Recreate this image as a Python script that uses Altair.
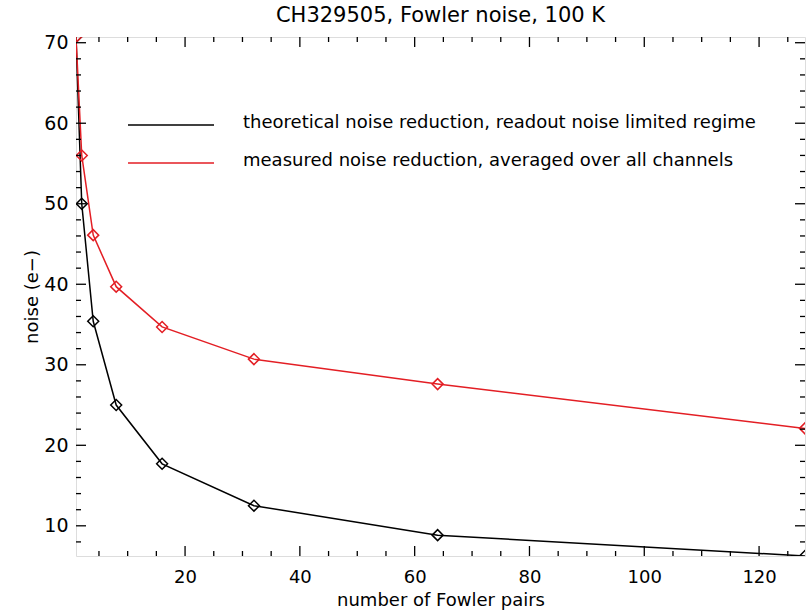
import altair as alt
import pandas as pd

# Fowler pair counts and noise levels (electrons)
pairs = [1, 2, 4, 8, 16, 32, 64, 128]
theoretical = [70.7, 50.0, 35.4, 25.0, 17.7, 12.5, 8.84, 6.25]
measured = [70.7, 56.0, 46.1, 39.7, 34.7, 30.7, 27.6, 22.1]

series_names = [
    "theoretical noise reduction, readout noise limited regime",
    "measured noise reduction, averaged over all channels",
]
series_colors = ["#000000", "#e31e24"]

x_major = [20, 40, 60, 80, 100, 120]
x_minor = [5, 10, 15, 25, 30, 35, 45, 50, 55, 65, 70, 75, 85, 90, 95, 105, 110, 115, 125]
y_major = [10, 20, 30, 40, 50, 60, 70]
y_minor = [8, 12, 14, 16, 18, 22, 24, 26, 28, 32, 34, 36, 38, 42, 44, 46, 48,
           52, 54, 56, 58, 62, 64, 66, 68]

FONT = "DejaVu Sans"
W, H = 729, 519

df = pd.DataFrame({
    "pairs": pairs * 2,
    "noise": theoretical + measured,
    "series": [series_names[0]] * len(pairs) + [series_names[1]] * len(pairs),
})

xs = alt.Scale(domain=[1, 128], nice=False, zero=False)
ys = alt.Scale(domain=[6.25, 70.71], nice=False, zero=False)
cs = alt.Scale(domain=series_names, range=series_colors)

x_axis = alt.Axis(values=x_major, ticks=False, domain=False, grid=False,
                  labelFontSize=18, labelFont=FONT, labelColor="black",
                  labelPadding=12, title="number of Fowler pairs",
                  titleFont=FONT, titleFontSize=18, titleFontWeight="normal",
                  titleColor="black", titlePadding=5)
y_axis = alt.Axis(values=y_major, ticks=False, domain=False, grid=False,
                  labelFontSize=19, labelFont=FONT, labelColor="black",
                  labelPadding=8, title="noise (e\u2212)",
                  titleFont=FONT, titleFontSize=18, titleFontWeight="normal",
                  titleColor="black", titlePadding=2)

base = alt.Chart(df).encode(
    x=alt.X("pairs:Q", scale=xs, axis=x_axis),
    y=alt.Y("noise:Q", scale=ys, axis=y_axis),
    color=alt.Color("series:N", scale=cs, legend=None),
    detail="series:N",
)
lines = base.mark_line(strokeWidth=1.5, clip=True)
points = base.mark_point(shape="diamond", filled=False, size=120,
                         strokeWidth=1.5, opacity=1, clip=True)

# inward tick marks on all four sides
def yticks(vals, length):
    d = pd.DataFrame({"v": vals})
    left = alt.Chart(d).mark_rule(color="black", strokeWidth=1.3).encode(
        y=alt.Y("v:Q", scale=ys), x=alt.value(0), x2=alt.value(length))
    right = alt.Chart(d).mark_rule(color="black", strokeWidth=1.3).encode(
        y=alt.Y("v:Q", scale=ys), x=alt.value(W - length), x2=alt.value(W))
    return [left, right]

def xticks(vals, length):
    d = pd.DataFrame({"v": vals})
    bottom = alt.Chart(d).mark_rule(color="black", strokeWidth=1.3).encode(
        x=alt.X("v:Q", scale=xs), y=alt.value(H - length), y2=alt.value(H))
    top = alt.Chart(d).mark_rule(color="black", strokeWidth=1.3).encode(
        x=alt.X("v:Q", scale=xs), y=alt.value(0), y2=alt.value(length))
    return [bottom, top]

ticks = yticks(y_major, 10) + yticks(y_minor, 5) + xticks(x_major, 10) + xticks(x_minor, 5)

# hand-placed legend inside the plot
legend_layers = []
for name, col, ly in zip(series_names, series_colors, [88, 126]):
    ld = pd.DataFrame({"label": [name]})
    legend_layers.append(
        alt.Chart(ld).mark_rule(color=col, strokeWidth=1.5).encode(
            x=alt.value(52), x2=alt.value(138), y=alt.value(ly)))
    legend_layers.append(
        alt.Chart(ld).mark_text(align="left", baseline="middle", font=FONT,
                                fontSize=18, color="black").encode(
            text="label:N", x=alt.value(167), y=alt.value(ly - 2)))

chart = alt.layer(lines, points, *ticks, *legend_layers).properties(
    width=W, height=H,
    autosize=alt.AutoSizeParams(type="none"),
    padding={"left": 76, "top": 37, "right": 5, "bottom": 54},
    title=alt.TitleParams("CH329505, Fowler noise, 100 K", font=FONT,
                          fontSize=21, fontWeight="normal", color="black",
                          offset=8),
).configure_view(stroke="black", strokeWidth=1.5).configure(background="white")

chart.save("out.html", embed_options={"renderer": "svg", "actions": False})
